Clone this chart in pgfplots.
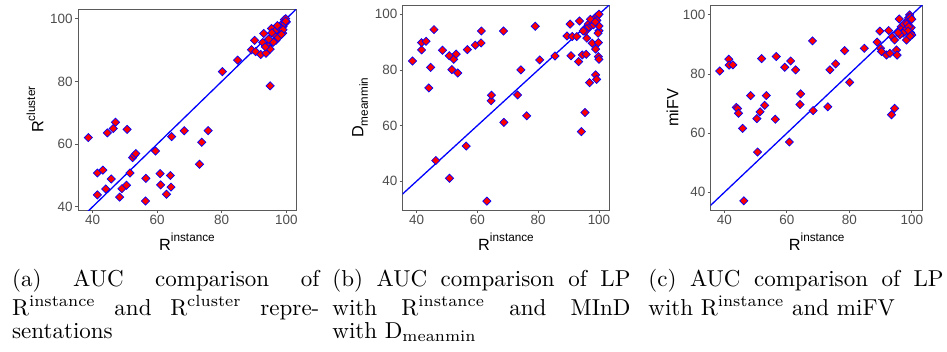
\documentclass[border=0pt]{standalone}
\usepackage{fontspec}
\usepackage{pgfplots}
\pgfplotsset{compat=1.18}
\newfontfamily\arial{Liberation Sans}
\definecolor{framegray}{RGB}{90,90,90}
\definecolor{tickgray}{RGB}{77,77,77}
\newcommand{\axtitle}[1]{\arial\fontsize{16.3}{18}\selectfont #1}
\newcommand{\sups}[1]{\raisebox{8.3bp}{\fontsize{11.8}{12}\selectfont #1}}
\newcommand{\subs}[1]{\raisebox{-4.5bp}{\fontsize{11.8}{12}\selectfont #1}}
\pgfplotsset{
 panel/.style={
  scale only axis, anchor=south west,
  axis line style={draw=framegray, line width=0.9bp},
  every tick/.style={draw=framegray, line width=0.8bp},
  tick align=outside, major tick length=3.2bp,
  xtick={40,60,80,100}, ytick={40,60,80,100},
  xtick pos=left, ytick pos=left,
  ticklabel style={font=\arial\fontsize{13.5}{15}\selectfont, text=tickgray, inner sep=2bp},
  /pgf/number format/assume math mode=true,
 },
 pts/.style={only marks, mark=square*, mark size=2.9bp, mark options={rotate=45, fill=red, draw=blue, line width=0.7bp}},
 diag/.style={blue, line width=1.3bp, no marks},
}
\tikzset{mycap/.style={anchor=base west, inner sep=0pt, scale=2.31, font=\fontsize{10}{12}\selectfont}}
\begin{document}
\begin{tikzpicture}
\useasboundingbox (0,0) rectangle (947bp,-352bp);
% ---------- panel a ----------
\begin{axis}[panel, at={(78bp,-210bp)}, width=218bp, height=200.7bp,
  xmin=35.5, xmax=103, ymin=39, ymax=103,
  xlabel={\axtitle{R\sups{instance}}},
  every axis x label/.style={at={(axis description cs:0.5,-0.1993)}, anchor=base},
  ylabel={\axtitle{R\sups{cluster}}},
  every axis y label/.style={at={(axis description cs:-0.159,0.5)}, anchor=base, rotate=90}]
\addplot[diag] coordinates {(30,30) (110,110)};
\addplot[pts] table {
x y
38.7 62.1
41.5 50.8
43.2 51.7
41.5 43.8
44.1 45.7
45.8 48.9
44.6 63.6
46.4 65.0
47.1 67.0
50.7 64.7
48.4 43.1
49.1 45.8
50.5 46.9
51.6 50.8
52.4 55.7
52.9 56.4
53.4 57.0
56.5 49.1
56.4 41.9
59.5 57.8
60.9 50.6
61.1 47.0
62.9 44.0
64.1 50.0
64.3 46.3
64.5 62.4
68.4 64.3
73.1 53.6
73.8 60.6
75.8 64.3
80.2 83.1
84.9 86.8
89.2 90.1
90.2 93.1
90.5 89.5
93.0 95.3
92.7 92.4
92.1 88.6
93.7 89.0
94.4 91.2
95.0 90.3
95.0 78.6
95.4 96.9
96.3 94.9
96.8 93.1
97.8 95.9
98.4 97.5
98.9 98.6
99.4 99.7
99.8 100
98.9 95.4
97.5 94.0
96.0 92.5
94.5 93.5
93.5 91.0
97.0 96.5
98.0 97.0
99.0 97.5
99.5 98.5
100 99.0
99.0 96.5
98.5 95.0
95.5 95.5
97.2 97.8
99.8 99.2
};
\end{axis}
% ---------- panel b ----------
\begin{axis}[panel, at={(402.7bp,-210bp)}, width=206.6bp, height=204.3bp,
  xmin=35.4, xmax=103.4, ymin=29.6, ymax=103.1,
  xlabel={\axtitle{R\sups{instance}}},
  every axis x label/.style={at={(axis description cs:0.5,-0.1958)}, anchor=base},
  ylabel={\axtitle{D\subs{meanmin}}},
  every axis y label/.style={at={(axis description cs:-0.1907,0.5)}, anchor=base, rotate=90}]
\addplot[diag] coordinates {(30,30) (110,110)};
\addplot[pts] table {
x y
38.6 83.2
41.6 87.2
41.6 89.8
43.1 90.3
44.0 73.5
44.6 80.9
45.7 94.5
46.3 47.4
48.5 87.1
50.7 85.1
50.8 41.0
51.6 80.1
52.2 83.8
53.0 85.7
53.5 78.9
56.3 52.6
56.7 87.3
59.3 88.9
61.2 89.7
61.3 94.0
63.1 32.8
64.5 68.9
64.6 70.9
68.6 94.0
68.7 61.1
73.2 71.0
74.3 80.0
76.2 63.5
79.0 95.7
80.5 83.6
85.5 85.0
89.5 92.2
90.5 96.5
90.8 85.1
91.2 92.0
92.7 92.0
93.3 83.0
93.6 97.6
94.2 57.8
94.5 85.4
95.2 94.6
95.4 64.7
95.8 85.6
96.0 91.4
96.9 75.4
97.8 89.6
98.9 87.5
98.9 78.2
99.2 76.6
99.8 89.8
99.8 84.8
100 83.8
100 94.1
99.7 93.2
100 95.8
97.5 97.6
98.0 97.0
98.5 98.5
99.0 99.0
99.5 99.5
100 100
96.5 96.5
97.0 95.5
96.0 94.8
95.5 93.8
94.8 94.0
98.2 96.2
99.3 97.8
97.2 98.2
98.8 97.3
};
\end{axis}
% ---------- panel c ----------
\begin{axis}[panel, at={(710.7bp,-210bp)}, width=212bp, height=204.3bp,
  xmin=35.6, xmax=103.5, ymin=34.0, ymax=103.1,
  xlabel={\axtitle{R\sups{instance}}},
  every axis x label/.style={at={(axis description cs:0.5,-0.1958)}, anchor=base},
  ylabel={\axtitle{miFV}},
  every axis y label/.style={at={(axis description cs:-0.153,0.5)}, anchor=base, rotate=90}]
\addplot[diag] coordinates {(30,30) (110,110)};
\addplot[pts] table {
x y
38.5 81.0
41.4 85.0
41.5 83.0
42.7 83.1
43.8 68.7
44.2 68.3
44.5 66.7
45.8 61.6
46.2 37.1
48.4 72.7
50.4 64.9
50.6 53.6
51.4 67.2
51.9 85.2
52.9 69.4
53.4 72.7
56.3 64.7
56.6 85.9
59.3 82.3
60.8 57.0
61.2 84.4
62.8 81.4
64.2 69.7
64.4 73.3
68.2 91.2
68.4 67.6
73.1 68.9
73.8 81.4
75.6 83.4
78.5 87.9
80.1 77.2
84.8 88.7
88.9 90.8
89.8 94.5
90.0 88.7
90.3 87.6
91.9 86.4
92.6 94.7
93.0 87.0
93.7 92.6
93.5 66.2
94.5 68.4
94.5 91.5
95.1 88.1
95.3 86.4
96.0 98.6
96.6 96.0
97.7 94.3
98.3 91.5
98.7 98.1
99.3 100
99.6 94.0
99.8 95.7
99.8 93.5
96.5 94.5
97.0 95.5
97.5 96.8
98.0 95.0
98.5 97.0
99.0 99.0
99.5 99.2
100 98.5
99.0 96.0
98.8 94.5
97.2 93.8
96.2 93.2
95.6 94.0
100 93.2
99.5 92.8
};
\end{axis}
% ---------- captions ----------
\node[mycap] at (11.7bp,-286.7bp) {\makebox[133bp][s]{(a) AUC comparison of}};
\node[mycap] at (11.7bp,-315bp) {\makebox[133bp][s]{$\mathrm{R^{instance}}$ and $\mathrm{R^{cluster}}$ repre-}};
\node[mycap] at (11.7bp,-338.5bp) {sentations};
\node[mycap] at (332bp,-286.7bp) {\makebox[129bp][s]{(b) AUC comparison of LP}};
\node[mycap] at (332bp,-315bp) {\makebox[129bp][s]{with $\mathrm{R^{instance}}$ and MInD}};
\node[mycap] at (332bp,-338.5bp) {with $\mathrm{D_{meanmin}}$};
\node[mycap] at (648bp,-286.7bp) {\makebox[127.8bp][s]{(c) AUC comparison of LP}};
\node[mycap] at (648bp,-315bp) {with $\mathrm{R^{instance}}$ and miFV};
\end{tikzpicture}
\end{document}
